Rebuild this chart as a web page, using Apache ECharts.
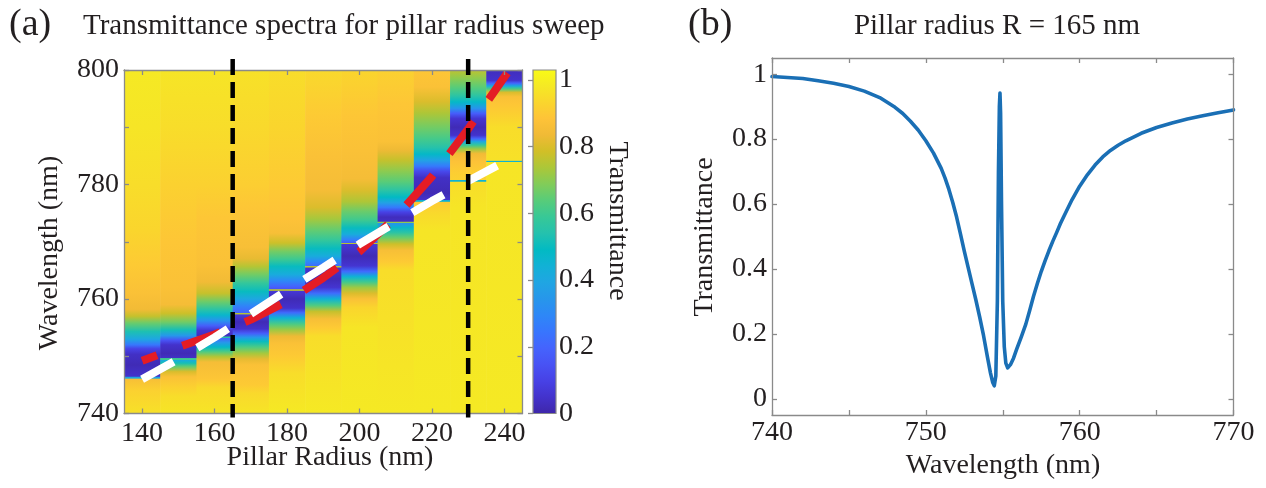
<!DOCTYPE html>
<html>
<head>
<meta charset="utf-8">
<script src="https://cdn.jsdelivr.net/npm/echarts@6/dist/echarts.min.js"></script>
<style>
html,body{margin:0;padding:0;background:#fff;}
#chart{width:1266px;height:488px;}
</style>
</head>
<body>
<div id="chart"></div>
<script>
// ---- Panel (a): transmittance spectra for the pillar radius sweep ----
// Pillar radii (nm), one spectrum column each
const radii = [140, 150, 160, 170, 180, 190, 200, 210, 220, 230, 240];

// Spectra as [wavelength (nm), transmittance], listed from 800 nm down to 740 nm
const spec140 = [[800,0.98],[790,0.97],[780,0.95],[772,0.93],[766,0.9],[761,0.87],[758.2,0.84],[757,0.77],[755.8,0.66],[754.3,0.53],[753,0.4],[752,0.25],[751.3,0.1],[750.3,0.04],[748.5,0.02],[746.5,0.05],[746.35,0.4],[746.15,0.4],[746.05,0.86],[744,0.92],[742,0.94],[740,0.96]];
const spec150 = [[800,0.97],[790,0.95],[780,0.92],[770,0.89],[762,0.87],[759,0.85],[757.5,0.78],[756,0.67],[754.6,0.52],[753.6,0.35],[752.8,0.15],[752,0.05],[750.5,0.02],[749.7,0.04],[749.6,0.6],[749.4,0.6],[749.3,0.42],[748.8,0.52],[748.2,0.65],[747.3,0.8],[746.4,0.87],[744.5,0.92],[743,0.95],[740,0.97]];
const spec160 = [[800,0.97],[790,0.95],[780,0.92],[774,0.89],[766,0.87],[763,0.84],[761,0.77],[759.5,0.66],[758.2,0.56],[757.2,0.47],[756.2,0.33],[755.3,0.18],[754.5,0.06],[753.5,0.03],[753.4,0.55],[753.25,0.55],[753.15,0.2],[752.4,0.35],[751.6,0.48],[750.8,0.62],[749.9,0.75],[749,0.85],[746,0.89],[744.5,0.94],[740,0.97]];
const spec170 = [[800,0.96],[790,0.94],[780,0.91],[776,0.89],[769,0.86],[767,0.82],[765.7,0.75],[764.3,0.67],[762.8,0.58],[761.3,0.5],[760,0.4],[758.7,0.28],[757.6,0.2],[757.5,0.75],[757.35,0.75],[757.25,0.08],[756,0.02],[754.8,0.05],[754,0.18],[753.3,0.35],[752.6,0.5],[751.6,0.62],[750.5,0.73],[749.5,0.82],[748.5,0.87],[745,0.9],[743.5,0.94],[740,0.97]];
const spec180 = [[800,0.95],[790,0.93],[780,0.9],[774,0.88],[771.5,0.86],[769.8,0.78],[768.3,0.67],[767,0.6],[765.7,0.5],[764.3,0.42],[763.2,0.3],[762.2,0.2],[761.7,0.15],[761.65,0.75],[761.5,0.75],[761.4,0.07],[760,0.02],[758.4,0.05],[757.6,0.22],[756.7,0.45],[755.6,0.62],[754.6,0.72],[753.5,0.83],[752.3,0.87],[750,0.9],[747,0.95],[740,0.98]];
const spec190 = [[800,0.94],[792,0.9],[785,0.87],[779,0.85],[776,0.8],[774,0.73],[772,0.65],[770.3,0.58],[768.8,0.5],[767.5,0.42],[766.5,0.3],[765.8,0.22],[765.7,0.75],[765.55,0.75],[765.45,0.06],[763.5,0.02],[762,0.06],[761,0.22],[760,0.45],[758.9,0.62],[757.8,0.77],[756.5,0.86],[755,0.9],[753.5,0.95],[740,0.98]];
const spec200 = [[800,0.93],[792,0.89],[786,0.87],[781,0.85],[779,0.8],[777,0.74],[775.3,0.66],[773.8,0.6],[772.4,0.5],[771.3,0.42],[770.4,0.28],[769.85,0.18],[769.8,0.75],[769.65,0.75],[769.55,0.07],[767.5,0.02],[765.8,0.06],[764.8,0.22],[763.9,0.45],[763,0.6],[762,0.72],[761,0.8],[760,0.87],[758.5,0.93],[755,0.97],[740,0.98]];
const spec210 = [[800,0.92],[794,0.89],[787.5,0.87],[786,0.83],[784.3,0.77],[782.3,0.7],[780.5,0.64],[779,0.56],[777.8,0.49],[776.8,0.38],[776,0.26],[775.2,0.1],[774.3,0.03],[773.55,0.04],[773.5,0.7],[773.35,0.7],[773.25,0.32],[772.5,0.47],[771.6,0.56],[770.7,0.66],[769.6,0.78],[768.5,0.86],[766.5,0.9],[765,0.95],[740,0.98]];
const spec220 = [[800,0.89],[797,0.87],[794.5,0.8],[792.5,0.74],[790,0.67],[788,0.61],[786.5,0.55],[785.3,0.48],[784.2,0.38],[783.2,0.26],[782.3,0.12],[781.2,0.04],[778.5,0.02],[777.3,0.05],[777.2,0.45],[777.05,0.45],[776.95,0.9],[775,0.94],[772,0.97],[740,0.98]];
const spec230 = [[800,0.76],[798.5,0.7],[797,0.64],[795.5,0.56],[794.4,0.48],[793.3,0.34],[792.4,0.18],[791.5,0.06],[790,0.02],[788.6,0.05],[788,0.2],[787.5,0.4],[786.9,0.58],[786.2,0.72],[785.4,0.84],[784,0.88],[782,0.91],[780.75,0.92],[780.7,0.45],[780.55,0.45],[780.45,0.95],[776,0.97],[740,0.98]];
const spec240 = [[800,0.03],[798.2,0.05],[797.7,0.2],[797.2,0.42],[796.7,0.62],[796.1,0.8],[795.3,0.87],[794,0.89],[792,0.92],[790,0.95],[784.2,0.96],[784.15,0.45],[784.0,0.45],[783.9,0.97],[740,0.98]];
const spectra = [spec140, spec150, spec160, spec170, spec180, spec190, spec200, spec210, spec220, spec230, spec240];

// Guide lines over the map, [radius (nm), wavelength (nm)]
const broadMode = [[140,749.2],[150,751.6],[160,753.8],[170,756.4],[180,759.6],[190,763.7],[200,768.3],[210,774.3],[220,781.4],[230,789.7],[240.8,799.5]];
const sharpMode = [[140,746.0],[150,749.5],[160,753.3],[170,757.4],[180,761.5],[190,765.5],[200,769.6],[210,773.4],[220,777.1],[230,780.6],[238,783.3]];
// Radii picked out with vertical dashed lines
const markedRadii = [165, 230];

const radiusTicks = [140, 160, 180, 200, 220, 240];
const colorbarTicks = [0, 0.2, 0.4, 0.6, 0.8, 1];
const colorMax = 1.03;

// ---- Panel (b): spectrum at R = 165 nm ----
const wavelengthB = [740,741,742,743,744,745,746,747,748,748.5,749,749.5,750,750.5,751,751.25,751.5,751.75,752,752.25,752.5,752.75,753,753.25,753.5,753.75,754,754.2,754.35,754.45,754.55,754.65,754.72,754.78,754.82,754.86,754.92,755,755.1,755.2,755.32,755.5,755.7,755.9,756.2,756.5,756.75,757,757.25,757.5,757.75,758,758.25,758.5,758.75,759,759.5,760,760.5,761,761.5,762,762.5,763,764,765,766,767,768,769,770];
const transB = [0.993,0.99,0.987,0.98,0.972,0.962,0.948,0.928,0.898,0.879,0.855,0.828,0.795,0.757,0.71,0.68,0.645,0.605,0.56,0.508,0.455,0.405,0.355,0.305,0.252,0.195,0.13,0.08,0.05,0.04,0.07,0.3,0.7,0.9,0.942,0.88,0.6,0.3,0.16,0.11,0.095,0.105,0.125,0.152,0.19,0.23,0.272,0.316,0.355,0.392,0.425,0.456,0.485,0.512,0.54,0.565,0.613,0.655,0.69,0.72,0.745,0.765,0.781,0.795,0.818,0.836,0.85,0.862,0.872,0.881,0.89];
const transTicks = [0, 0.2, 0.4, 0.6, 0.8, 1];

// Parula colour map
const parulaRGB = [[62,38,168],[67,50,203],[71,65,229],[72,82,244],[69,99,253],[56,117,254],[46,135,247],[39,150,235],[32,165,227],[18,177,214],[2,186,195],[36,193,174],[55,200,151],[87,204,122],[129,204,89],[171,199,57],[209,191,39],[240,186,54],[254,195,56],[250,214,45],[245,233,36],[249,251,21]];
function parula(t) {
  t = Math.min(1, Math.max(0, t));
  const n = parulaRGB.length - 1;
  const f = t * n;
  const k = Math.min(n - 1, Math.floor(f));
  const u = f - k;
  const a = parulaRGB[k], b = parulaRGB[k + 1];
  const c = [0, 1, 2].map(j => Math.round(a[j] + (b[j] - a[j]) * u));
  return 'rgb(' + c.join(',') + ')';
}

const FONT = 'Liberation Serif';
const INK = '#231f20';
const FRAME = '#8a8a8a';

const lineSty = { color: FRAME, width: 1.3 };
function frameAxis(o) {
  return Object.assign({
    type: 'value', z: 10,
    axisLine: { show: true, onZero: false, lineStyle: lineSty },
    axisTick: { show: true, inside: true, length: 5, lineStyle: lineSty },
    axisLabel: { show: false },
    splitLine: { show: false }
  }, o);
}
const labelSty = { fontFamily: FONT, fontSize: 28, color: INK };

const chart = echarts.init(document.getElementById('chart'), null, { renderer: 'canvas' });

function renderColumn(params, api) {
  const r = api.value(0);
  const s = spectra[api.value(2)];
  const p0 = api.coord([r - 5, 800]);
  const p1 = api.coord([r + 5, 740]);
  const stops = s.map(d => ({ offset: (800 - d[0]) / 60, color: parula(d[1] / colorMax) }));
  return {
    type: 'rect',
    shape: { x: p0[0], y: p0[1], width: p1[0] - p0[0] + 0.6, height: p1[1] - p0[1] },
    style: { fill: new echarts.graphic.LinearGradient(0, 0, 0, 1, stops) }
  };
}

function renderColorbar(params, api) {
  const p0 = api.coord([0, colorMax]);
  const p1 = api.coord([1, 0]);
  const n = parulaRGB.length - 1;
  const stops = parulaRGB.map((c, k) => ({ offset: 1 - k / n, color: 'rgb(' + c.join(',') + ')' })).reverse();
  return {
    type: 'rect',
    shape: { x: p0[0], y: p0[1], width: p1[0] - p0[0], height: p1[1] - p0[1] },
    style: { fill: new echarts.graphic.LinearGradient(0, 0, 0, 1, stops), stroke: FRAME, lineWidth: 1.2 }
  };
}

function text(x, y, str, size, opts) {
  opts = opts || {};
  return {
    type: 'text', x: x, y: y, z: 20, rotation: opts.rotation || 0,
    style: {
      text: str, font: size + 'px "' + FONT + '"', fill: INK,
      align: opts.align || 'center', verticalAlign: 'middle'
    }
  };
}

const option = {
  animation: false,
  backgroundColor: '#fff',
  grid: [
    { left: 124, top: 70, width: 398.5, height: 343.5 },
    { left: 533, top: 70, width: 23, height: 343.5 },
    { left: 772, top: 58, width: 461.5, height: 357 }
  ],
  xAxis: [
    frameAxis({ gridIndex: 0, min: 135, max: 245, position: 'bottom',
      axisTick: { show: true, inside: true, length: 5, lineStyle: lineSty, customValues: radiusTicks },
      axisLabel: Object.assign({ show: true, margin: 6, customValues: radiusTicks }, labelSty) }),
    frameAxis({ gridIndex: 0, min: 135, max: 245, position: 'top',
      axisTick: { show: true, inside: true, length: 5, lineStyle: lineSty, customValues: radiusTicks } }),
    { gridIndex: 1, type: 'value', min: 0, max: 1, show: false },
    frameAxis({ gridIndex: 2, min: 740, max: 770, interval: 5, position: 'bottom',
      axisLabel: Object.assign({ show: true, margin: 4, formatter: v => (v % 10 === 0 ? String(v) : '') }, labelSty) }),
    frameAxis({ gridIndex: 2, min: 740, max: 770, interval: 5, position: 'top' })
  ],
  yAxis: [
    frameAxis({ gridIndex: 0, min: 740, max: 800, interval: 10, position: 'left',
      axisLabel: Object.assign({ show: true, margin: 5, formatter: v => (v % 20 === 0 ? String(v) : '') }, labelSty) }),
    frameAxis({ gridIndex: 0, min: 740, max: 800, interval: 10, position: 'right' }),
    frameAxis({ gridIndex: 1, min: 0, max: colorMax, position: 'right',
      axisLine: { show: false },
      axisTick: { show: true, inside: true, length: 5, lineStyle: lineSty, customValues: colorbarTicks },
      axisLabel: Object.assign({ show: true, margin: 3, customValues: colorbarTicks, formatter: v => String(+v.toFixed(1)) }, labelSty) }),
    frameAxis({ gridIndex: 2, min: -0.05, max: 1.05, position: 'left',
      axisTick: { show: true, inside: true, length: 5, lineStyle: lineSty, customValues: transTicks },
      axisLabel: Object.assign({ show: true, margin: 5, customValues: transTicks, formatter: v => String(+v.toFixed(1)) }, labelSty) }),
    frameAxis({ gridIndex: 2, min: -0.05, max: 1.05, position: 'right',
      axisTick: { show: true, inside: true, length: 5, lineStyle: lineSty, customValues: transTicks } })
  ],
  series: [
    {
      name: 'spectra', type: 'custom', xAxisIndex: 0, yAxisIndex: 0, clip: true,
      encode: { x: 0, y: 1 },
      data: radii.map((r, i) => [r, 770, i]),
      renderItem: renderColumn, z: 1, silent: true
    },
    {
      name: 'colorbar', type: 'custom', xAxisIndex: 2, yAxisIndex: 2,
      encode: { x: 0, y: 1 }, data: [[0.5, 0.5]],
      renderItem: renderColorbar, z: 1, silent: true
    },
    {
      name: 'broad mode', type: 'line', xAxisIndex: 0, yAxisIndex: 0, data: broadMode,
      showSymbol: false, silent: true, z: 3,
      lineStyle: { color: '#e41c25', width: 8, type: [40, 27], dashOffset: 24, cap: 'butt' }
    },
    {
      name: 'sharp mode', type: 'line', xAxisIndex: 0, yAxisIndex: 0, data: sharpMode,
      showSymbol: false, silent: true, z: 4,
      lineStyle: { color: '#ffffff', width: 8, type: [36, 27.5], dashOffset: 0, cap: 'butt' }
    }
  ].concat(markedRadii.map(r => ({
      name: 'R = ' + r, type: 'line', xAxisIndex: 0, yAxisIndex: 0, clip: false,
      data: [[r, 801.9], [r, 739.3]], showSymbol: false, silent: true, z: 12,
      lineStyle: { color: '#000000', width: 4.5, type: [16, 7], cap: 'butt' }
  }))).concat([
    {
      name: 'R = 165 nm', type: 'line', xAxisIndex: 3, yAxisIndex: 3,
      data: wavelengthB.map((w, i) => [w, transB[i]]),
      showSymbol: false, silent: true, z: 5,
      lineStyle: { color: '#1a6fb5', width: 3.6, join: 'round', cap: 'round' }
    }
  ]),
  graphic: [
    text(9, 25, '(a)', 38, { align: 'left' }),
    text(83, 26, 'Transmittance spectra for pillar radius sweep', 29, { align: 'left' }),
    text(688, 25, '(b)', 38, { align: 'left' }),
    text(997, 26, 'Pillar radius R = 165 nm', 29),
    text(50, 253, 'Wavelength (nm)', 28, { rotation: Math.PI / 2 }),
    text(330, 458, 'Pillar Radius (nm)', 28),
    text(617, 221, 'Transmittance', 28, { rotation: -Math.PI / 2 }),
    text(705, 237, 'Transmittance', 28, { rotation: Math.PI / 2 }),
    text(1003, 466, 'Wavelength (nm)', 28)
  ]
};
chart.setOption(option);
</script>
</body>
</html>
